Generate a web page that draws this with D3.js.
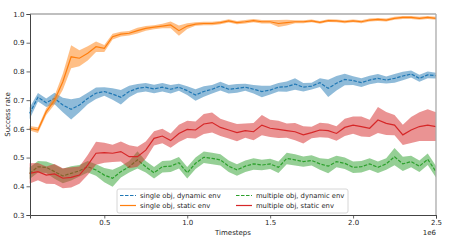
<!DOCTYPE html>
<html>
<head>
<meta charset="utf-8">
<script src="https://cdn.jsdelivr.net/npm/d3@7"></script>
<style>
  body { margin: 0; background: #fff; }
  text { font-family: "DejaVu Sans", sans-serif; fill: #262626; }
</style>
</head>
<body>
<script>
'use strict';

var width = 450,
    height = 250,
    margin = {top: 14, right: 14, bottom: 35, left: 30};

// timesteps, in units of 1e6
var steps = [0.05, 0.10, 0.15, 0.20, 0.25, 0.30, 0.35, 0.40, 0.45, 0.50,
             0.55, 0.60, 0.65, 0.70, 0.75, 0.80, 0.85, 0.90, 0.95, 1.00,
             1.05, 1.10, 1.15, 1.20, 1.25, 1.30, 1.35, 1.40, 1.45, 1.50,
             1.55, 1.60, 1.65, 1.70, 1.75, 1.80, 1.85, 1.90, 1.95, 2.00,
             2.05, 2.10, 2.15, 2.20, 2.25, 2.30, 2.35, 2.40, 2.45, 2.50];

// single obj, dynamic env
var singleDynMean = [0.654, 0.710, 0.691, 0.706, 0.683, 0.668, 0.683, 0.706, 0.724, 0.730,
                     0.721, 0.710, 0.730, 0.741, 0.745, 0.739, 0.745, 0.738, 0.745, 0.733,
                     0.718, 0.730, 0.738, 0.749, 0.738, 0.741, 0.745, 0.738, 0.730, 0.735,
                     0.745, 0.747, 0.756, 0.745, 0.749, 0.761, 0.741, 0.759, 0.772, 0.768,
                     0.761, 0.770, 0.776, 0.770, 0.776, 0.784, 0.791, 0.776, 0.788, 0.785];
var singleDynErr = [0.020, 0.015, 0.015, 0.020, 0.025, 0.035, 0.025, 0.020, 0.020, 0.015,
                    0.020, 0.025, 0.020, 0.015, 0.015, 0.015, 0.015, 0.015, 0.012, 0.015,
                    0.020, 0.018, 0.015, 0.015, 0.015, 0.015, 0.012, 0.015, 0.020, 0.015,
                    0.015, 0.018, 0.020, 0.015, 0.012, 0.015, 0.030, 0.025, 0.020, 0.015,
                    0.015, 0.015, 0.015, 0.012, 0.015, 0.015, 0.012, 0.012, 0.012, 0.010];

// single obj, static env
var singleStatMean = [0.602, 0.596, 0.660, 0.700, 0.764, 0.851, 0.846, 0.863, 0.886, 0.880,
                      0.921, 0.930, 0.933, 0.942, 0.950, 0.954, 0.958, 0.962, 0.942, 0.958,
                      0.965, 0.967, 0.967, 0.970, 0.976, 0.970, 0.973, 0.977, 0.973, 0.973,
                      0.967, 0.970, 0.973, 0.973, 0.976, 0.971, 0.977, 0.976, 0.973, 0.976,
                      0.973, 0.979, 0.981, 0.979, 0.985, 0.988, 0.988, 0.985, 0.988, 0.985];
var singleStatErr = [0.008, 0.010, 0.012, 0.015, 0.028, 0.040, 0.028, 0.025, 0.018, 0.012,
                     0.010, 0.008, 0.008, 0.010, 0.008, 0.007, 0.008, 0.012, 0.018, 0.010,
                     0.006, 0.006, 0.006, 0.006, 0.006, 0.006, 0.006, 0.006, 0.006, 0.006,
                     0.012, 0.010, 0.005, 0.005, 0.005, 0.005, 0.005, 0.005, 0.005, 0.005,
                     0.005, 0.005, 0.005, 0.005, 0.005, 0.005, 0.005, 0.005, 0.005, 0.005];

// multiple obj, dynamic env
var multiDynMean = [0.445, 0.468, 0.466, 0.451, 0.436, 0.445, 0.454, 0.468, 0.457, 0.439,
                    0.428, 0.451, 0.468, 0.492, 0.468, 0.447, 0.468, 0.470, 0.482, 0.447,
                    0.480, 0.501, 0.497, 0.492, 0.470, 0.457, 0.470, 0.478, 0.474, 0.478,
                    0.466, 0.497, 0.492, 0.486, 0.490, 0.478, 0.470, 0.486, 0.480, 0.466,
                    0.468, 0.478, 0.466, 0.478, 0.503, 0.478, 0.486, 0.470, 0.494, 0.451];
var multiDynErr = [0.020, 0.020, 0.020, 0.025, 0.025, 0.025, 0.020, 0.020, 0.020, 0.025,
                   0.030, 0.020, 0.020, 0.030, 0.020, 0.020, 0.020, 0.020, 0.020, 0.020,
                   0.020, 0.020, 0.020, 0.020, 0.020, 0.020, 0.020, 0.020, 0.018, 0.018,
                   0.020, 0.020, 0.020, 0.018, 0.018, 0.020, 0.025, 0.020, 0.020, 0.020,
                   0.020, 0.020, 0.020, 0.020, 0.030, 0.025, 0.020, 0.020, 0.020, 0.020];

// multiple obj, static env
var multiStatMean = [0.445, 0.451, 0.439, 0.443, 0.428, 0.431, 0.439, 0.474, 0.515, 0.517,
                     0.515, 0.521, 0.503, 0.503, 0.526, 0.567, 0.575, 0.559, 0.584, 0.598,
                     0.596, 0.617, 0.622, 0.605, 0.596, 0.587, 0.594, 0.590, 0.613, 0.602,
                     0.598, 0.594, 0.590, 0.579, 0.587, 0.596, 0.594, 0.584, 0.605, 0.613,
                     0.608, 0.602, 0.631, 0.619, 0.613, 0.579, 0.596, 0.608, 0.613, 0.608];
var multiStatErr = [0.035, 0.030, 0.030, 0.035, 0.035, 0.035, 0.030, 0.035, 0.040, 0.035,
                    0.030, 0.035, 0.040, 0.035, 0.030, 0.025, 0.025, 0.025, 0.030, 0.030,
                    0.030, 0.035, 0.035, 0.030, 0.030, 0.030, 0.025, 0.030, 0.035, 0.030,
                    0.030, 0.025, 0.030, 0.030, 0.020, 0.025, 0.025, 0.025, 0.030, 0.030,
                    0.035, 0.030, 0.045, 0.040, 0.035, 0.035, 0.045, 0.050, 0.055, 0.050];

var xTicks = [0.5, 1.0, 1.5, 2.0, 2.5];
var yTicks = [0.3, 0.4, 0.5, 0.6, 0.7, 0.8, 0.9, 1.0];

var series = [
  {label: 'single obj, dynamic env',   mean: singleDynMean,  err: singleDynErr,  color: '#1f77b4', dash: '3.5,1.5'},
  {label: 'single obj, static env',    mean: singleStatMean, err: singleStatErr, color: '#ff7f0e', dash: null},
  {label: 'multiple obj, dynamic env', mean: multiDynMean,   err: multiDynErr,   color: '#2ca02c', dash: '3.5,1.5'},
  {label: 'multiple obj, static env',  mean: multiStatMean,  err: multiStatErr,  color: '#d62728', dash: null}
];

var x = d3.scaleLinear()
  .domain([0.052, 2.5])
  .range([margin.left, width - margin.right]);

var y = d3.scaleLinear()
  .domain([0.3, 1.0])
  .range([height - margin.bottom, margin.top]);

var svg = d3.select('body').append('svg')
  .attr('width', width)
  .attr('height', height);

var area = d3.area()
  .x(function(d) { return x(d.s); })
  .y0(function(d) { return y(d.m - d.e); })
  .y1(function(d) { return y(d.m + d.e); });

var line = d3.line()
  .x(function(d) { return x(d.s); })
  .y(function(d) { return y(d.m); });

// bands + mean lines
series.forEach(function(s) {
  var pts = steps.map(function(st, i) {
    return {s: st, m: s.mean[i], e: s.err[i]};
  });
  svg.append('path')
    .datum(pts)
    .attr('d', area)
    .attr('fill', s.color)
    .attr('fill-opacity', 0.5)
    .attr('stroke', 'none');
  svg.append('path')
    .datum(pts)
    .attr('d', line)
    .attr('fill', 'none')
    .style('stroke', s.color)
    .attr('stroke-width', 1.2)
    .attr('stroke-dasharray', s.dash);
});

// spines: top/right lighter
var x0 = margin.left, x1 = width - margin.right,
    y0 = margin.top, y1 = height - margin.bottom;
svg.append('line').attr('x1', x0).attr('x2', x1).attr('y1', y0).attr('y2', y0)
  .attr('stroke', '#aaa').attr('stroke-width', 1.3);
svg.append('line').attr('x1', x1).attr('x2', x1).attr('y1', y0).attr('y2', y1)
  .attr('stroke', '#aaa').attr('stroke-width', 1.3);

// axes
var xAxis = svg.append('g')
  .attr('transform', 'translate(0,' + y1 + ')')
  .call(d3.axisBottom(x).tickValues(xTicks).tickFormat(d3.format('.1f')).tickSize(3.5).tickPadding(2));
var yAxis = svg.append('g')
  .attr('transform', 'translate(' + x0 + ',0)')
  .call(d3.axisLeft(y).tickValues(yTicks).tickFormat(d3.format('.1f')).tickSize(3.5).tickPadding(2));

[xAxis, yAxis].forEach(function(g) {
  g.select('.domain').attr('stroke', '#444').attr('stroke-width', 1);
  g.selectAll('.tick line').attr('stroke', '#444').attr('stroke-width', 0.8);
  g.selectAll('.tick text').attr('font-size', 7).attr('font-family', '"DejaVu Sans", sans-serif').style('fill', '#262626');
});

svg.append('text')
  .attr('x', (x0 + x1) / 2)
  .attr('y', 235)
  .attr('text-anchor', 'middle')
  .attr('font-size', 7)
  .text('Timesteps');

svg.append('text')
  .attr('x', x1)
  .attr('y', 235)
  .attr('text-anchor', 'end')
  .attr('font-size', 7)
  .text('1e6');

svg.append('text')
  .attr('transform', 'translate(10,' + ((y0 + y1) / 2) + ') rotate(-90)')
  .attr('text-anchor', 'middle')
  .attr('font-size', 7)
  .text('Success rate');

// legend
var legend = svg.append('g').attr('transform', 'translate(117,189)');
legend.append('rect')
  .attr('width', 231)
  .attr('height', 24)
  .attr('rx', 2)
  .attr('fill', '#fff')
  .attr('fill-opacity', 0.8)
  .attr('stroke', '#ccc')
  .attr('stroke-width', 0.8);

var legendPos = [[0, 0], [0, 1], [1, 0], [1, 1]];
series.forEach(function(s, i) {
  var cx = legendPos[i][0] * 116 + 3,
      cy = 6.5 + legendPos[i][1] * 10;
  legend.append('line')
    .attr('x1', cx).attr('x2', cx + 16)
    .attr('y1', cy).attr('y2', cy)
    .style('stroke', s.color)
    .attr('stroke-width', 1.2)
    .attr('stroke-dasharray', s.dash);
  legend.append('text')
    .attr('x', cx + 20)
    .attr('y', cy + 2.5)
    .attr('font-size', 6.8)
    .text(s.label);
});
</script>
</body>
</html>
